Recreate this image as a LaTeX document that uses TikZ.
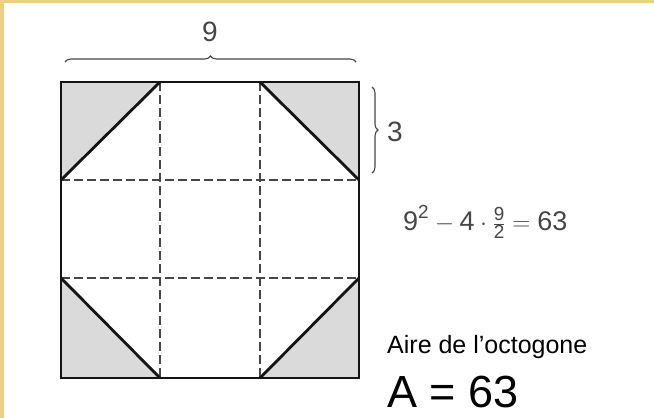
\documentclass[tikz,border=0pt]{standalone}
\usepackage{fontspec}
\setmainfont{Liberation Sans}
\usepackage{amsmath}
\usetikzlibrary{decorations.pathreplacing}
\definecolor{gold}{RGB}{236,206,132}
\definecolor{ink}{RGB}{20,20,20}
\definecolor{scan}{RGB}{70,70,70}
\definecolor{shade}{RGB}{218,218,218}

\begin{document}
\begin{tikzpicture}[x=1pt,y=-1pt,
  edge/.style={ink, line width=2.8pt},
  fold/.style={scan, line width=2pt, dash pattern=on 9pt off 4pt},
  corner/.style={fill=shade},
  brc/.style={scan, line width=1.1pt, decorate, decoration={brace, amplitude=6pt}},
  lbl/.style={scan, font=\fontsize{28}{28}\selectfont, inner sep=0pt}]
  \useasboundingbox (0,0) rectangle (654,418);
  \fill[white] (0,0) rectangle (654,418);
  \fill[gold] (0,0) rectangle (654,3);
  \fill[gold] (0,0) rectangle (4,418);

  \coordinate (nw) at (61,82);
  \coordinate (ne) at (359,82);
  \coordinate (sw) at (61,378);
  \coordinate (se) at (359,378);
  \coordinate (a1) at (160,82);
  \coordinate (a2) at (260,82);
  \coordinate (b1) at (61,180);
  \coordinate (b2) at (359,180);
  \coordinate (c1) at (61,278);
  \coordinate (c2) at (359,278);
  \coordinate (d1) at (160,378);
  \coordinate (d2) at (260,378);

  \fill[corner] (nw) -- (a1) -- (b1) -- cycle;
  \fill[corner] (ne) -- (a2) -- (b2) -- cycle;
  \fill[corner] (sw) -- (c1) -- (d1) -- cycle;
  \fill[corner] (se) -- (c2) -- (d2) -- cycle;

  \draw[fold] (a1) -- (d1);
  \draw[fold] (a2) -- (d2);
  \draw[fold] (b1) -- (b2);
  \draw[fold] (c1) -- (c2);

  \draw[edge] (a1) -- (b1);
  \draw[edge] (a2) -- (b2);
  \draw[edge] (c1) -- (d1);
  \draw[edge] (c2) -- (d2);
  \draw[edge] (nw) rectangle (se);

  \coordinate (topl) at (65,62);
  \coordinate (topr) at (356,62);
  \coordinate (sidet) at (372,87);
  \coordinate (sideb) at (372,173);
  \draw[brc] (topl) -- (topr);
  \draw[brc] (sidet) -- (sideb);
  \node[lbl] (nine) at (210,32) {9};
  \node[lbl] (three) at (395,132) {3};

  \node[scan, anchor=west, inner sep=0pt, font=\fontsize{27}{30}\selectfont] (calc) at (403,222)
    {$\text{9}^{\text{2}}-\text{4}\cdot\frac{\text{9}}{\text{2}}=\text{63}$};

  \node[anchor=base west, inner sep=0pt, font=\fontsize{25}{30}\selectfont] (title) at (387,353) {Aire de l’octogone};
  \node[anchor=base west, inner sep=0pt, font=\fontsize{45}{50}\selectfont] (area) at (387,407) {A = 63};
\end{tikzpicture}
\end{document}
